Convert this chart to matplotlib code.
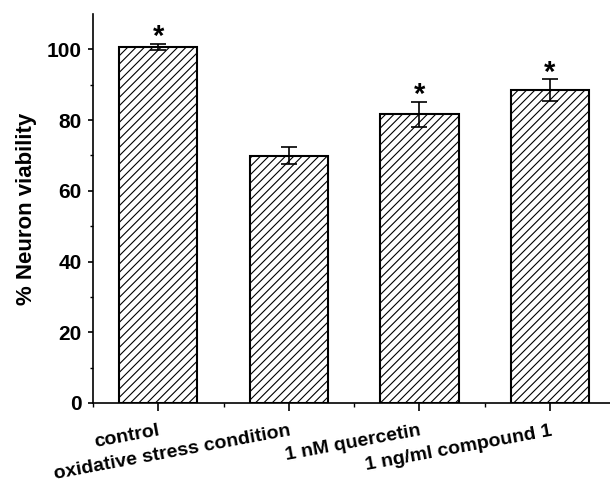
import numpy as np
import matplotlib
matplotlib.use('Agg')
import matplotlib.pyplot as plt
from matplotlib.ticker import FixedLocator

plt.rcParams['font.family'] = ['Liberation Sans', 'DejaVu Sans']
plt.rcParams['font.weight'] = 'bold'
plt.rcParams['hatch.linewidth'] = 0.8

# data
categories = ['control', 'oxidative stress condition', '1 nM quercetin', '1 ng/ml compound 1']
viability = [100.7, 69.9, 81.6, 88.5]
errors = [0.8, 2.4, 3.6, 3.0]
significant = [True, False, True, True]

x = np.arange(1, len(categories) + 1)

fig = plt.figure(figsize=(6.1, 4.9), dpi=100)
ax = fig.add_axes([0.1525, 0.1776, 0.8475, 0.7939])

ax.bar(x, viability, width=0.6, color='white', edgecolor='black',
       linewidth=1.5, hatch='////', zorder=2)
ax.errorbar(x, viability, yerr=errors, fmt='none', ecolor='black',
            elinewidth=1.2, capsize=6, capthick=1.2, zorder=3)

# significance stars
for xi, v, e, sig in zip(x, viability, errors, significant):
    if sig:
        ax.text(xi, v + e - 0.3, '*', ha='center', va='baseline',
                fontsize=21, fontweight='bold')

ax.set_xlim(0.5, 4.46)
ax.set_ylim(0, 110)

ax.spines['top'].set_visible(False)
ax.spines['right'].set_visible(False)
ax.spines['left'].set_linewidth(1.2)
ax.spines['bottom'].set_linewidth(1.2)

ax.set_yticks([0, 20, 40, 60, 80, 100])
ax.yaxis.set_minor_locator(FixedLocator([10, 30, 50, 70, 90]))
ax.set_xticks(x)
ax.xaxis.set_minor_locator(FixedLocator([0.5, 1.5, 2.5, 3.5, 4.5]))

ax.tick_params(axis='y', which='major', direction='out', length=3.5, width=1.2,
               labelsize=15, pad=4.5)
ax.tick_params(axis='y', which='minor', direction='out', length=2.5, width=1.0)
ax.tick_params(axis='x', which='major', direction='out', length=6, width=1.2,
               labelsize=14, pad=8)
ax.tick_params(axis='x', which='minor', direction='out', length=3, width=1.0)

ax.set_xticklabels(categories, rotation=10.5, ha='right', va='top',
                   rotation_mode='anchor', fontweight='bold')
for lab in ax.get_yticklabels():
    lab.set_fontweight('bold')

ax.set_ylabel('% Neuron viability', fontsize=16, fontweight='bold', labelpad=7)

fig.savefig('out.png', dpi=100, facecolor='white')
